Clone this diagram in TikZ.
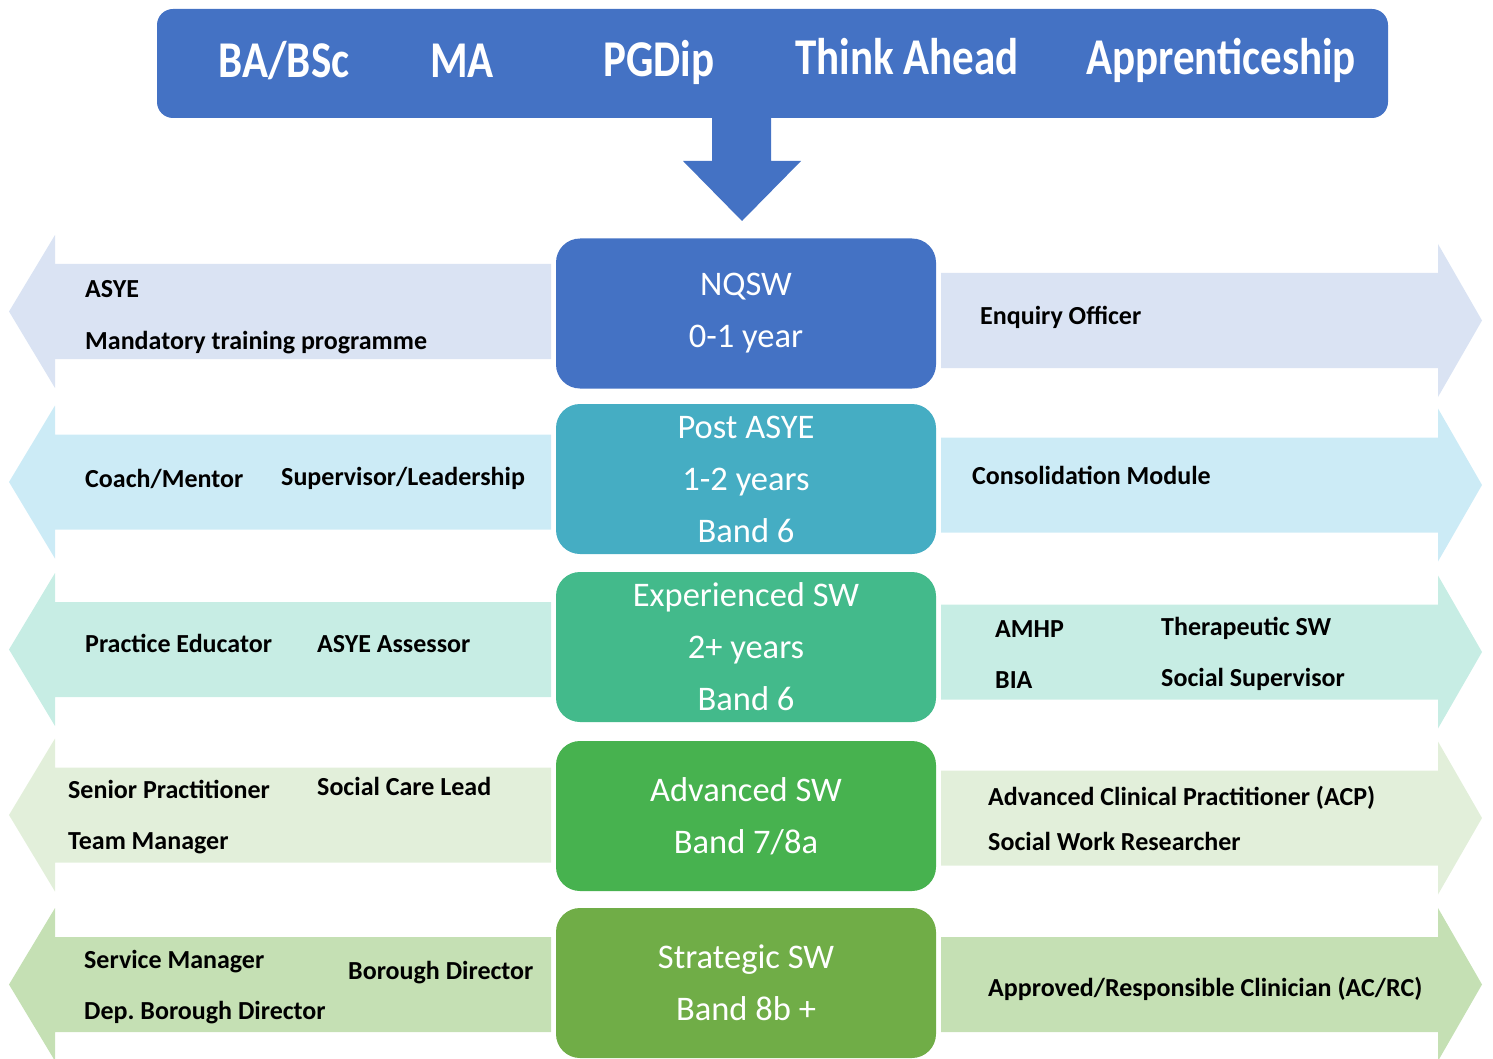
\documentclass[tikz,border=0pt]{standalone}
\usepackage{fontspec}
\setmainfont{Carlito}
\usetikzlibrary{calc,positioning}
\frenchspacing
\definecolor{nqblue}{HTML}{4472C4}
\definecolor{postteal}{HTML}{45ADC3}
\definecolor{expgreen}{HTML}{43BA8B}
\definecolor{advgreen}{HTML}{47B24F}
\definecolor{strgreen}{HTML}{70AD47}
\definecolor{rowa}{HTML}{DAE3F3}
\definecolor{rowb}{HTML}{CCEBF6}
\definecolor{rowc}{HTML}{C7EDE4}
\definecolor{rowd}{HTML}{E2EFDA}
\definecolor{rowe}{HTML}{C5E0B4}
\tikzset{
  stage/.style={rectangle, rounded corners=24pt, minimum width=380pt, minimum height=150pt,
    text=white, align=center, font=\fontsize{34.5}{52}\selectfont},
  route/.style={anchor=base, inner sep=0pt, text=white, font=\fontsize{43}{50}\selectfont\bfseries},
  role/.style={anchor=base west, inner sep=0pt, font=\fontsize{26}{30}\selectfont\bfseries},
}

\begin{document}
\begin{tikzpicture}[x=1pt,y=-1pt]
	\useasboundingbox (0,0) rectangle (1493,1059);

	% side arrows
	\foreach \yl/\yr/\col in {311.5/320.5/rowa, 482/485/rowb, 649.5/652/rowc, 815/818/rowd, 984.5/984.5/rowe} {
		\fill[\col] (9,\yl) -- (55,\yl-76.5) -- (55,\yl-47.5) -- (551,\yl-47.5)
			-- (551,\yl+47.5) -- (55,\yl+47.5) -- (55,\yl+76.5) -- cycle;
		\fill[\col] (941,\yr-47.5) -- (1438,\yr-47.5) -- (1438,\yr-76.5) -- (1482,\yr)
			-- (1438,\yr+76.5) -- (1438,\yr+47.5) -- (941,\yr+47.5) -- cycle;
	}

	% entry routes
	\draw (772.5,63.5) node (routes) [rectangle, rounded corners=16pt, fill=nqblue,
		minimum width=1231pt, minimum height=109pt] {};
	\draw (284,78) node (ba) [route] {\scalebox{1}[1.2]{BA/BSc}};
	\draw (462,78) node (ma) [route] {\scalebox{1}[1.2]{MA}};
	\draw (659,77) node (pg) [route] {\scalebox{1}[1.2]{PGDip}};
	\draw (907,75) node (ta) [route] {\scalebox{1}[1.2]{Think Ahead}};
	\draw (1221,75) node (ap) [route] {\scalebox{1}[1.2]{Apprenticeship}};
	\fill[nqblue] (712,118) -- (712,161) -- (683,161) -- (742,221) -- (801,161) -- (771,161) -- (771,118) -- cycle;

	% career stages
	\draw (746,313.5) node (nqsw) [stage, fill=nqblue] {NQSW\\0-1 year};
	\draw (746,479) node (post) [stage, fill=postteal] {Post ASYE\\1-2 years\\Band 6};
	\draw (746,647) node (exp) [stage, fill=expgreen] {Experienced SW\\2+ years\\Band 6};
	\draw (746,816) node (adv) [stage, fill=advgreen] {Advanced SW\\Band 7/8a};
	\draw (746,983) node (str) [stage, fill=strgreen] {Strategic SW\\Band 8b +};

	% roles
	\draw (85,298) node (asye) [role] {ASYE};
	\draw (85,349) node (mtp) [role] {Mandatory training programme};
	\draw (980,324) node (enq) [role] {Enquiry Officer};

	\draw (85,487) node (coach) [role] {Coach/Mentor};
	\draw (281,485) node (sup) [role] {Supervisor/Leadership};
	\draw (972,484) node (cons) [role] {Consolidation Module};

	\draw (85,652) node (pe) [role] {Practice Educator};
	\draw (317,652) node (assr) [role] {ASYE Assessor};
	\draw (995,637) node (amhp) [role] {AMHP};
	\draw (995,688) node (bia) [role] {BIA};
	\draw (1161,635) node (ther) [role] {Therapeutic SW};
	\draw (1161,686) node (ssup) [role] {Social Supervisor};

	\draw (68,798) node (sp) [role] {Senior Practitioner};
	\draw (68,849) node (tm) [role] {Team Manager};
	\draw (317,795) node (scl) [role] {Social Care Lead};
	\draw (988,805) node (acp) [role] {Advanced Clinical Practitioner (ACP)};
	\draw (988,850) node (swr) [role] {Social Work Researcher};

	\draw (84,968) node (sm) [role] {Service Manager};
	\draw (84,1019) node (dbd) [role] {Dep. Borough Director};
	\draw (348,979) node (bd) [role] {Borough Director};
	\draw (988,996) node (acrc) [role] {Approved/Responsible Clinician (AC/RC)};
\end{tikzpicture}
\end{document}
